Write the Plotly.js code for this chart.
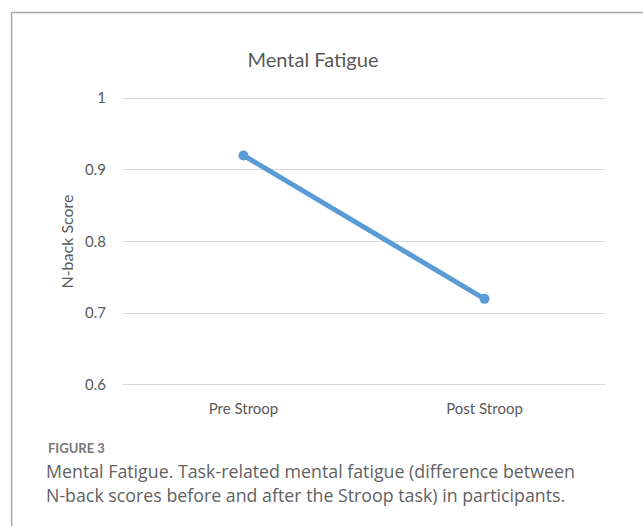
<!DOCTYPE html>
<html>
<head>
<meta charset="utf-8">
<script src="https://cdn.plot.ly/plotly-3.0.1.min.js"></script>
<style>
  html, body { margin: 0; padding: 0; background: #ffffff; }
  #chart { width: 643px; height: 526px; }
</style>
</head>
<body>
<div id="chart"></div>
<script>
// ---- data ----
const categories = ["Pre Stroop", "Post Stroop"];
const nbackScores = [0.92, 0.72];
const yTickValues = [0.6, 0.7, 0.8, 0.9, 1];
const yTickLabels = ["0.6", "0.7", "0.8", "0.9", "1"];
const chartTitle = "Mental Fatigue";
const yAxisTitle = "N-back Score";
const figureLabel = "FIGURE 3";
const captionLines = [
  "Mental Fatigue. Task-related mental fatigue (difference between",
  "N-back scores before and after the Stroop task) in participants."
];

// ---- layout geometry ----
const W = 643, H = 526;
const L = 122.5, R = 605, T = 96.7, B = 386;
const pw = R - L, ph = B - T;
const px = p => (p - L) / pw;
const py = p => (B - p) / ph;
const eps = 0.0015;

const chartFont = "Lato, 'Open Sans', sans-serif";
const captionFont = "'Open Sans', Lato, sans-serif";

const trace = {
  x: categories,
  y: nbackScores,
  type: "scatter",
  mode: "lines+markers",
  line: { color: "#5B9BD5", width: 5 },
  marker: { color: "#5B9BD5", size: 10 },
  hoverinfo: "skip",
  cliponaxis: false
};

const annotations = [
  { text: figureLabel, xref: "paper", yref: "paper", x: px(45), y: py(448),
    xanchor: "left", yanchor: "middle", showarrow: false,
    font: { family: chartFont, size: 13, color: "#777777", weight: 700 } }
];
captionLines.forEach((t, i) => {
  annotations.push({ text: t, xref: "paper", yref: "paper", x: px(43), y: py(471 + i * 24),
    xanchor: "left", yanchor: "middle", showarrow: false,
    font: { family: captionFont, size: 17.8, color: "#626262" } });
});

const layout = {
  width: W, height: H,
  margin: { l: L, r: W - R, t: T, b: H - B, pad: 0 },
  paper_bgcolor: "#ffffff",
  plot_bgcolor: "#ffffff",
  showlegend: false,
  title: {
    text: chartTitle,
    xref: "container", yref: "container",
    x: 313 / W, y: 1 - 60 / H, xanchor: "center", yanchor: "middle",
    font: { family: chartFont, size: 20, color: "#595959" }
  },
  xaxis: {
    type: "category",
    range: [-0.5, 1.5],
    showgrid: false,
    zeroline: false,
    showline: false,
    ticks: "",
    tickfont: { family: chartFont, size: 15, color: "#595959" },
    ticklabelstandoff: 12,
    fixedrange: true
  },
  yaxis: {
    range: [0.6 - eps, 1.0 + eps],
    tickvals: yTickValues,
    ticktext: yTickLabels,
    showgrid: true,
    gridcolor: "#d9d9d9",
    gridwidth: 1,
    zeroline: false,
    showline: false,
    ticks: "",
    ticklabelstandoff: 16,
    tickfont: { family: chartFont, size: 15, color: "#595959" },
    title: { text: yAxisTitle, standoff: 7, font: { family: chartFont, size: 16, color: "#595959" } },
    fixedrange: true
  },
  shapes: [
    { type: "line", xref: "paper", yref: "paper", x0: px(11), x1: px(11), y0: py(12), y1: py(H + 2),
      line: { color: "#a9a9a9", width: 1.5 } },
    { type: "line", xref: "paper", yref: "paper", x0: px(11), x1: px(W + 2), y0: py(12), y1: py(12),
      line: { color: "#a9a9a9", width: 1.5 } }
  ],
  annotations: annotations
};

Plotly.newPlot("chart", [trace], layout, { displayModeBar: false, staticPlot: true });
</script>
</body>
</html>
